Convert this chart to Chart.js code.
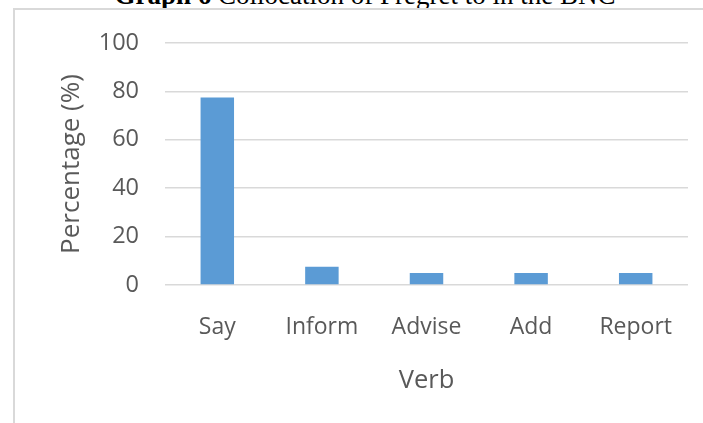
<!DOCTYPE html>
<html>
<head>
<meta charset="utf-8">
<script src="https://cdn.jsdelivr.net/npm/chart.js@4.4.1/dist/chart.umd.min.js"></script>
<style>
  html, body { margin: 0; padding: 0; background: #fff; width: 703px; height: 423px; overflow: hidden; }
  #title { position: absolute; left: 0; width: 730px; top: -17.6px; text-align: center; font-family: "Liberation Serif", "Times New Roman", serif; font-size: 27px; line-height: 27px; color: #000; white-space: nowrap; z-index: 0; }
  #box { position: absolute; left: 13px; top: 8px; width: 800px; height: 500px; background: #fff; border-left: 2px solid #D9D9D9; border-top: 2px solid #D9D9D9; z-index: 1; }
  #wrap { position: absolute; left: 0; top: 0; width: 703px; height: 423px; z-index: 2; }
</style>
</head>
<body>
<div id="title"><b>Graph 6</b> Collocation of Pregret to in the BNC</div>
<div id="box"></div>
<div id="wrap"><canvas id="c" width="703" height="423"></canvas></div>
<script>
const categories = ["Say", "Inform", "Advise", "Add", "Report"];
const percentages = [77.5, 7.5, 5, 5, 5];
const yTicks = [0, 20, 40, 60, 80, 100];
const xTitle = "Verb";
const yTitle = "Percentage (%)";

const FONT = '"Open Sans", "Noto Sans", sans-serif';
const TXT = '#595959';

new Chart(document.getElementById('c'), {
  type: 'bar',
  data: {
    labels: categories,
    datasets: [{
      data: percentages,
      backgroundColor: '#5B9BD5',
      borderWidth: 0,
      categoryPercentage: 1,
      barPercentage: 0.32
    }]
  },
  options: {
    responsive: false,
    animation: false,
    devicePixelRatio: 1,
    layout: { padding: { left: 45, right: 15, top: 43, bottom: 0 } },
    plugins: { legend: { display: false }, tooltip: { enabled: false } },
    scales: {
      x: {
        grid: { display: false, drawTicks: false },
        border: { display: false },
        ticks: { color: TXT, font: { family: FONT, size: 23 }, padding: 29, maxRotation: 0 },
        title: { display: true, text: xTitle, color: TXT, font: { family: FONT, size: 25.5 }, padding: 27 },
        afterFit: s => { s.height = 138; }
      },
      y: {
        min: 0, max: 100,
        afterBuildTicks: s => { s.ticks = yTicks.map(v => ({ value: v })); },
        grid: { color: '#D9D9D9', lineWidth: 1.5, drawTicks: false },
        border: { display: false },
        ticks: { color: TXT, font: { family: FONT, size: 23.5 }, padding: 26 },
        title: { display: true, text: yTitle, color: TXT, font: { family: FONT, size: 26 }, padding: 11 },
        afterFit: s => { s.width = 120; }
      }
    }
  }
});
</script>
</body>
</html>
